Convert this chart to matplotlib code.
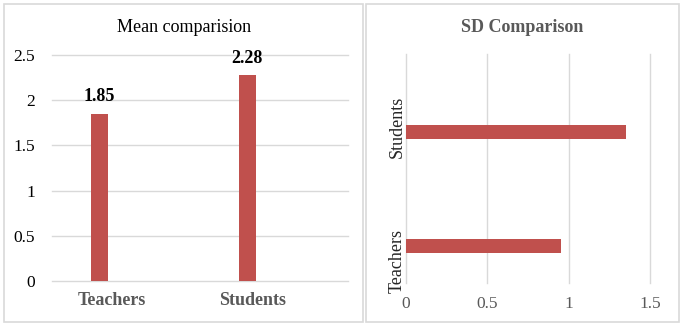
import matplotlib
matplotlib.use('Agg')
from matplotlib import pyplot as plt
from matplotlib.patches import Rectangle
from matplotlib.transforms import blended_transform_factory

groups = ['Teachers', 'Students']
mean_vals = [1.85, 2.28]
sd_vals = [0.95, 1.35]
mean_ticks = [0, 0.5, 1, 1.5, 2, 2.5]
sd_ticks = [0, 0.5, 1, 1.5]

RED = '#c0504d'
GRID = '#d9d9d9'
GRAY = '#595959'
W, H = 683, 326

plt.rcParams['font.family'] = ['Liberation Serif', 'DejaVu Serif']

fig = plt.figure(figsize=(W / 100, H / 100), dpi=100)


def box(x0, y0, x1, y1):
    # rect in pixel coords from top-left
    return [x0 / W, 1 - y1 / H, (x1 - x0) / W, (y1 - y0) / H]


# panel borders
for x0, x1 in [(4, 363), (366, 679)]:
    fig.patches.append(Rectangle((x0 / W, 1 - 322 / H), (x1 - x0) / W, 318 / H,
                                 transform=fig.transFigure, fill=False,
                                 edgecolor=GRID, lw=1.2))

# ---- mean comparison (columns)
ax1 = fig.add_axes(box(52, 55, 348, 281))
pos = range(len(groups))
off = -0.18
bw = 0.11
bars = ax1.bar([p + off for p in pos], mean_vals, width=bw, color=RED, zorder=3)
for b, v in zip(bars, mean_vals):
    ax1.annotate(f'{v:.2f}', (b.get_x() + b.get_width() / 2, v), xytext=(0, 6),
                 textcoords='offset points', ha='center', va='bottom',
                 fontsize=13, fontweight='bold', color='black')
ax1.set_xlim(-0.5, 1.5)
ax1.set_ylim(0, 2.5)
ax1.set_yticks(mean_ticks)
ax1.set_yticklabels([f'{t:g}' for t in mean_ticks], fontsize=12.5, color='black')
ax1.set_xticks([0 + off + 0.085, 1 + off + 0.034])
ax1.set_xticklabels(groups, fontsize=13, fontweight='bold', color=GRAY)
ax1.tick_params(length=0)
ax1.tick_params(axis='y', pad=12)
ax1.tick_params(axis='x', pad=8)
for t in mean_ticks:
    ax1.axhline(t, color=GRID, lw=1, zorder=0, clip_on=False)
for s in ax1.spines.values():
    s.set_visible(False)
fig.text(184 / W, 1 - 27 / H, 'Mean comparision', ha='center', va='center',
         fontsize=13, color='black')

# ---- SD comparison (horizontal bars)
ax2 = fig.add_axes(box(406, 54, 650, 283))
ax2.barh([p + off for p in pos], sd_vals, height=0.12, color=RED, zorder=3)
ax2.set_ylim(-0.5, 1.5)
ax2.set_xlim(0, 1.5)
ax2.set_xticks(sd_ticks)
ax2.set_xticklabels([f'{t:g}' for t in sd_ticks], fontsize=12.5, color=GRAY)
ax2.set_yticks([])
ax2.tick_params(length=0)
ax2.tick_params(axis='x', pad=9)
for t in sd_ticks:
    ax2.axvline(t, color=GRID, lw=1, zorder=0, clip_on=False)
for s in ax2.spines.values():
    s.set_visible(False)
tr = blended_transform_factory(fig.transFigure, ax2.transData)
lab_off = [-0.31, -0.14]
for p, g, lo in zip(pos, groups, lab_off):
    ax2.text(397 / W, p + lo, g, transform=tr, rotation=90, ha='center',
             va='center', fontsize=13, color='#262626')
fig.text(522 / W, 1 - 27 / H, 'SD Comparison', ha='center', va='center',
         fontsize=13, fontweight='bold', color=GRAY)

fig.savefig('out.png', dpi=100)
